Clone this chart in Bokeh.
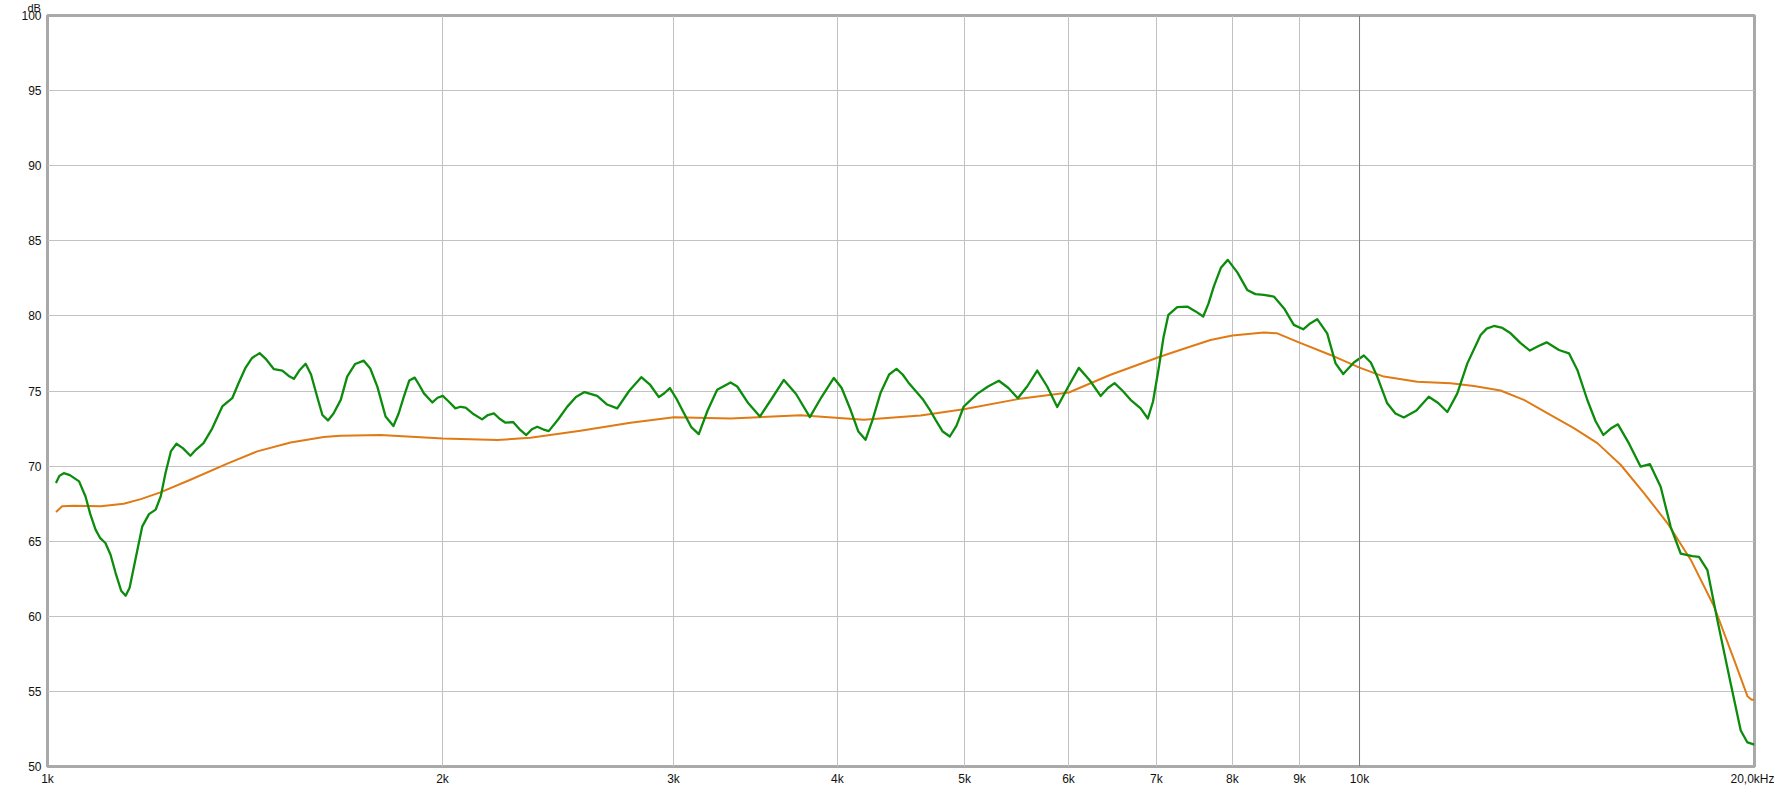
from bokeh.plotting import figure
from bokeh.models import Range1d, FixedTicker, Span
from bokeh.embed import file_html
from bokeh.resources import INLINE

# ---- data (frequencies in kHz, levels in dB) ----
green_khz = [1.015, 1.021, 1.029, 1.040, 1.057, 1.069, 1.078, 1.088, 1.097, 1.107,
             1.117, 1.127, 1.138, 1.147, 1.155, 1.164, 1.181, 1.195, 1.209, 1.220,
             1.230, 1.242, 1.254, 1.268, 1.285, 1.298, 1.315, 1.335, 1.359, 1.383,
             1.398, 1.415, 1.432, 1.451, 1.468, 1.488, 1.510, 1.527, 1.541, 1.557,
             1.573, 1.588, 1.605, 1.620, 1.636, 1.652, 1.673, 1.692, 1.716, 1.742,
             1.762, 1.784, 1.810, 1.835, 1.852, 1.869, 1.887, 1.905, 1.920, 1.936,
             1.965, 1.983, 2.001, 2.022, 2.046, 2.064, 2.083, 2.113, 2.144, 2.166,
             2.189, 2.211, 2.234, 2.264, 2.290, 2.317, 2.340, 2.362, 2.386, 2.410,
             2.450, 2.490, 2.528, 2.566, 2.624, 2.670, 2.718, 2.775, 2.835, 2.880,
             2.924, 2.952, 2.981, 3.015, 3.055, 3.095, 3.136, 3.185, 3.239, 3.316,
             3.355, 3.420, 3.491, 3.565, 3.641, 3.720, 3.811, 3.890, 3.975, 4.030,
             4.093, 4.150, 4.202, 4.255, 4.314, 4.380, 4.437, 4.485, 4.530, 4.650,
             4.700, 4.752, 4.812, 4.872, 4.930, 4.993, 5.112, 5.210, 5.310, 5.400,
             5.490, 5.580, 5.680, 5.780, 5.883, 5.990, 6.110, 6.230, 6.348, 6.430,
             6.506, 6.600, 6.691, 6.810, 6.897, 6.960, 7.032, 7.090, 7.150, 7.262,
             7.391, 7.500, 7.601, 7.670, 7.744, 7.840, 7.936, 8.070, 8.211, 8.330,
             8.454, 8.604, 8.760, 8.911, 9.059, 9.170, 9.284, 9.448, 9.588, 9.718,
             9.900, 10.076, 10.200, 10.315, 10.498, 10.650, 10.808, 11.050, 11.292, 11.480,
             11.666, 11.872, 12.083, 12.368, 12.500, 12.660, 12.850, 13.036, 13.260, 13.485,
             13.690, 13.887, 14.190, 14.441, 14.656, 14.915, 15.130, 15.340, 15.540, 15.738,
             16.045, 16.378, 16.648, 16.963, 17.264, 17.570, 17.935, 18.144, 18.414, 18.740,
             19.183, 19.523, 19.753, 20.0]
green_db = [68.87, 69.35, 69.53, 69.40, 68.98, 67.98, 66.80, 65.77, 65.20, 64.88,
            64.10, 62.88, 61.70, 61.37, 61.90, 63.33, 65.99, 66.80, 67.10, 68.00,
            69.53, 71.00, 71.49, 71.20, 70.69, 71.10, 71.53, 72.50, 73.97, 74.52,
            75.50, 76.52, 77.20, 77.52, 77.10, 76.45, 76.36, 76.00, 75.81, 76.40,
            76.81, 76.10, 74.63, 73.40, 73.04, 73.50, 74.41, 75.96, 76.80, 77.02,
            76.50, 75.29, 73.30, 72.67, 73.50, 74.62, 75.70, 75.89, 75.40, 74.84,
            74.24, 74.55, 74.67, 74.30, 73.84, 73.95, 73.89, 73.45, 73.11, 73.40,
            73.51, 73.15, 72.89, 72.93, 72.45, 72.07, 72.45, 72.62, 72.45, 72.33,
            73.10, 73.96, 74.60, 74.93, 74.67, 74.10, 73.84, 75.00, 75.92, 75.40,
            74.59, 74.85, 75.19, 74.50, 73.53, 72.60, 72.13, 73.70, 75.08, 75.57,
            75.30, 74.20, 73.30, 74.50, 75.74, 74.80, 73.26, 74.60, 75.87, 75.20,
            73.75, 72.30, 71.75, 73.10, 74.86, 76.10, 76.47, 76.10, 75.57, 74.41,
            73.80, 73.08, 72.30, 71.97, 72.70, 73.97, 74.81, 75.30, 75.68, 75.20,
            74.52, 75.30, 76.36, 75.30, 73.93, 75.20, 76.54, 75.70, 74.67, 75.20,
            75.52, 75.00, 74.41, 73.84, 73.17, 74.30, 76.60, 78.60, 80.07, 80.58,
            80.62, 80.30, 79.96, 80.80, 81.96, 83.20, 83.73, 82.90, 81.73, 81.45,
            81.40, 81.29, 80.50, 79.40, 79.11, 79.50, 79.78, 78.84, 76.84, 76.13,
            76.90, 77.36, 76.90, 75.96, 74.18, 73.50, 73.24, 73.70, 74.62, 74.20,
            73.60, 74.84, 76.84, 78.73, 79.15, 79.33, 79.20, 78.84, 78.20, 77.69,
            78.00, 78.24, 77.73, 77.51, 76.40, 74.40, 73.00, 72.07, 72.50, 72.78,
            71.51, 69.96, 70.13, 68.62, 65.96, 64.18, 64.00, 63.96, 63.07, 59.73,
            55.51, 52.40, 51.60, 51.46]

orange_khz = [1.015, 1.026, 1.047, 1.098, 1.143, 1.178, 1.219, 1.285, 1.371, 1.445,
              1.532, 1.624, 1.672, 1.794, 2.001, 2.202, 2.334, 2.548, 2.782, 3.002,
              3.316, 3.749, 4.190, 4.628, 4.993, 5.490, 6.004, 6.460, 7.053, 7.434,
              7.699, 8.000, 8.454, 8.655, 9.000, 9.503, 10.000, 10.436, 11.065, 11.734,
              12.223, 12.806, 13.344, 13.902, 14.566, 15.179, 15.812, 16.473, 17.164, 17.882,
              18.628, 19.294, 19.753, 19.900, 20.0]
orange_db = [66.94, 67.32, 67.36, 67.32, 67.49, 67.80, 68.25, 69.09, 70.16, 70.98,
             71.57, 71.93, 72.02, 72.07, 71.84, 71.73, 71.89, 72.36, 72.89, 73.26,
             73.17, 73.39, 73.08, 73.37, 73.79, 74.46, 74.90, 76.08, 77.30, 77.96,
             78.40, 78.69, 78.89, 78.84, 78.22, 77.40, 76.56, 75.96, 75.62, 75.51,
             75.34, 75.03, 74.41, 73.53, 72.53, 71.53, 70.09, 68.20, 66.21, 63.77,
             60.67, 57.12, 54.68, 54.45, 54.45]

x_ticks_khz = [1, 2, 3, 4, 5, 6, 7, 8, 9, 10, 20]
x_tick_labels = ["1k", "2k", "3k", "4k", "5k", "6k", "7k", "8k", "9k", "10k", "20,0kHz"]
y_ticks = [50, 55, 60, 65, 70, 75, 80, 85, 90, 95, 100]
y_unit = "dB"
x_min_hz, x_max_hz = 1000, 20000
y_min, y_max = 50, 100

FONT = "Liberation Sans"

p = figure(x_axis_type="log", output_backend="svg", toolbar_location=None,
           frame_width=1707, frame_height=751,
           min_border_left=47, min_border_right=20, min_border_top=15, min_border_bottom=20,
           x_range=Range1d(x_min_hz, x_max_hz), y_range=Range1d(y_min, y_max),
           background_fill_color="white", border_fill_color="white")

p.title.text = y_unit
p.title.align = "left"
p.title.offset = -20
p.title.standoff = 0
p.title.vertical_align = "top"
p.title.text_font = FONT
p.title.text_font_size = "11px"
p.title.text_font_style = "normal"
p.title.text_color = "#111111"

p.outline_line_color = "#a9a9a9"
p.outline_line_width = 3

xt = [k * 1000 for k in x_ticks_khz]
p.xaxis.ticker = FixedTicker(ticks=xt)
p.xaxis.major_label_overrides = {t: lab for t, lab in zip(xt, x_tick_labels)}
p.yaxis.ticker = FixedTicker(ticks=y_ticks)

for ax in (p.xaxis[0], p.yaxis[0]):
    ax.axis_line_color = None
    ax.major_tick_line_color = None
    ax.minor_tick_line_color = None
    ax.major_tick_out = 0
    ax.major_tick_in = 0
    ax.major_label_text_font = FONT
    ax.major_label_text_font_size = "12px"
    ax.major_label_text_color = "#111111"
p.xaxis.major_label_standoff = 5
p.yaxis.major_label_standoff = 6

p.xgrid.grid_line_color = "#c2c2c2"
p.ygrid.grid_line_color = "#c2c2c2"

p.add_layout(Span(location=10000, dimension="height", line_color="#7c7c7c", line_width=1))

p.line([k * 1000 for k in orange_khz], orange_db, line_color="#e07a14", line_width=2,
       line_join="round")
p.line([k * 1000 for k in green_khz], green_db, line_color="#0c8c0c", line_width=2.3,
       line_join="round")

open("out.html", "w").write(file_html(p, INLINE))
